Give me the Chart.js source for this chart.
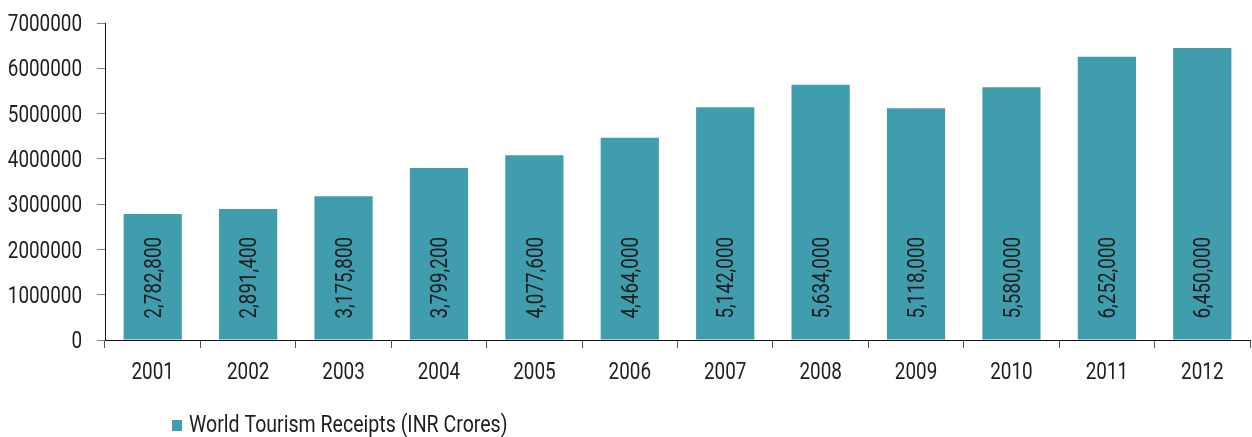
<!DOCTYPE html>
<html>
<head>
<meta charset="utf-8">
<script src="https://cdn.jsdelivr.net/npm/chart.js@4/dist/chart.umd.min.js"></script>
<style>
  html, body { margin: 0; padding: 0; background: #fff; }
  #wrap { position: relative; width: 1252px; height: 437px; }
</style>
</head>
<body>
<div id="wrap"><canvas id="c" width="1252" height="437"></canvas></div>
<script>
// Yearly receipts, INR crores
const years = ['2001','2002','2003','2004','2005','2006','2007','2008','2009','2010','2011','2012'];
const receipts = [2782800, 2891400, 3175800, 3799200, 4077600, 4464000, 5142000, 5634000, 5118000, 5580000, 6252000, 6450000];
const seriesName = 'World Tourism Receipts (INR Crores)';
const yTicks = [0, 1000000, 2000000, 3000000, 4000000, 5000000, 6000000, 7000000];

const FONT = '23px Roboto, "Liberation Sans", sans-serif';
const SQUEEZE = 0.82;   // horizontal condensing of chart text
const CAP = 8.2;        // half the cap height at 23px
const BAR = '#409DAD';
const TEXT = '#1e1e1e';

// Draws condensed text; (x, y) is the anchor on the baseline
function condensedText(ctx, str, x, y, align, squeeze = SQUEEZE) {
  ctx.save();
  ctx.translate(x, y);
  ctx.scale(squeeze, 1);
  ctx.textAlign = align;
  ctx.textBaseline = 'alphabetic';
  ctx.fillText(str, 0, 0);
  ctx.restore();
}

// Axis tick labels
const axisLabels = {
  id: 'axisLabels',
  afterDraw(chart) {
    const ctx = chart.ctx;
    const xs = chart.scales.x, ys = chart.scales.y;
    ctx.save();
    ctx.font = FONT;
    ctx.fillStyle = TEXT;
    yTicks.forEach(v => {
      condensedText(ctx, String(v), ys.right - 23, ys.getPixelForValue(v) + CAP, 'right');
    });
    years.forEach((y, i) => {
      condensedText(ctx, y, xs.getPixelForValue(i), xs.top + 39, 'center');
    });
    ctx.restore();
  }
};

// Value labels written upward from the base of each bar
const barValueLabels = {
  id: 'barValueLabels',
  afterDatasetsDraw(chart) {
    const ctx = chart.ctx;
    const meta = chart.getDatasetMeta(0);
    const data = chart.data.datasets[0].data;
    ctx.save();
    ctx.font = FONT;
    ctx.fillStyle = TEXT;
    meta.data.forEach((bar, i) => {
      ctx.save();
      ctx.translate(bar.x, bar.base - 21);
      ctx.rotate(-Math.PI / 2);
      condensedText(ctx, data[i].toLocaleString('en-US'), 0, CAP, 'left');
      ctx.restore();
    });
    ctx.restore();
  }
};

// Single-entry legend at the lower left
const bottomLegend = {
  id: 'bottomLegend',
  afterDraw(chart) {
    const ctx = chart.ctx;
    const ds = chart.data.datasets[0];
    ctx.save();
    ctx.fillStyle = ds.backgroundColor;
    ctx.fillRect(172, 420, 10, 11);
    ctx.font = FONT;
    ctx.fillStyle = TEXT;
    condensedText(ctx, ds.label, 189, 432, 'left', 0.85);
    ctx.restore();
  }
};

new Chart(document.getElementById('c'), {
  type: 'bar',
  data: {
    labels: years,
    datasets: [{
      label: seriesName,
      data: receipts,
      backgroundColor: BAR,
      borderWidth: 0,
      categoryPercentage: 1,
      barPercentage: 0.61
    }]
  },
  options: {
    responsive: false,
    animation: false,
    events: [],
    layout: { padding: { top: 23, right: 2, bottom: 0, left: 0 } },
    plugins: {
      legend: { display: false },
      tooltip: { enabled: false }
    },
    scales: {
      x: {
        grid: {
          offset: true,
          drawOnChartArea: false,
          drawTicks: true,
          tickLength: 8,
          tickColor: '#555'
        },
        border: { display: true, color: '#111', width: 1 },
        ticks: { display: false },
        afterFit(scale) { scale.height = 97; }
      },
      y: {
        min: 0,
        max: 7000000,
        afterBuildTicks(scale) { scale.ticks = yTicks.map(v => ({ value: v })); },
        grid: {
          drawOnChartArea: false,
          drawTicks: true,
          tickLength: 8,
          tickColor: '#808080'
        },
        border: { display: true, color: '#111', width: 1 },
        ticks: { display: false },
        afterFit(scale) { scale.width = 105; }
      }
    }
  },
  plugins: [barValueLabels, axisLabels, bottomLegend]
});
</script>
</body>
</html>
